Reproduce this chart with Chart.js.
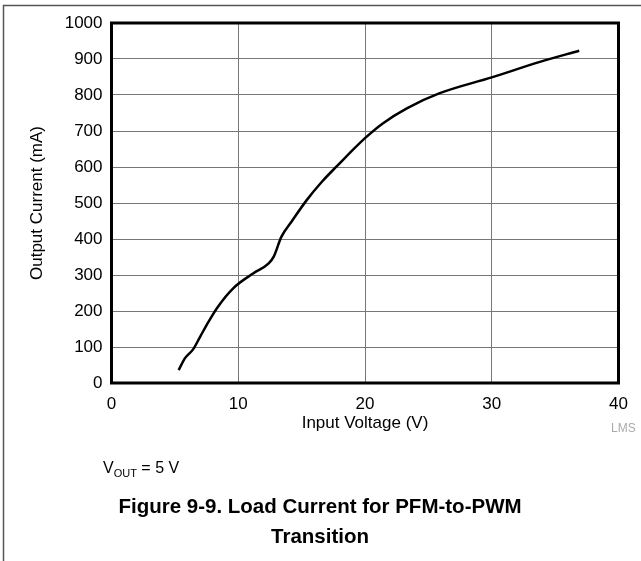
<!DOCTYPE html>
<html>
<head>
<meta charset="utf-8">
<script src="https://cdn.jsdelivr.net/npm/chart.js@4"></script>
<style>
  html, body { margin: 0; padding: 0; background: #fff; }
  #wrap { position: relative; width: 641px; height: 561px; }
</style>
</head>
<body>
<div id="wrap"><canvas id="grafico" width="641" height="561"></canvas></div>
<script>
// dati
const tensioneIngresso = [5.3, 5.8, 6.45, 7.0, 7.65, 8.4, 9.6, 11.2, 12.4, 12.8, 13.4, 14.2, 15.4, 16.6, 17.8, 20.0, 21.4, 23.3, 25.9, 30.0, 33.8, 36.9];
const correnteUscita = [36, 69, 94, 129, 170, 212, 263, 305, 332, 351, 406, 448, 508, 559, 603, 680, 721, 763, 805, 849, 892, 923];
const tickX = [0, 10, 20, 30, 40];
const tickY = [0, 100, 200, 300, 400, 500, 600, 700, 800, 900, 1000];

const FONT = "'Liberation Sans', Arial, sans-serif";

const punti = tensioneIngresso.map((v, i) => ({ x: v, y: correnteUscita[i] }));

// cornice, testi sotto il grafico
const decorazioni = {
    id: 'decorazioni',
    afterDraw(chart) {
        const ctx = chart.ctx;
        const a = chart.chartArea;
        ctx.save();
        // cornice dell'area del grafico
        ctx.strokeStyle = '#000';
        ctx.lineWidth = 3;
        ctx.strokeRect(a.left, a.top, a.right - a.left, a.bottom - a.top);

        // bordo della pagina
        ctx.strokeStyle = '#555';
        ctx.lineWidth = 1.5;
        ctx.beginPath();
        ctx.moveTo(3.5, 561);
        ctx.lineTo(3.5, 5.5);
        ctx.lineTo(641, 5.5);
        ctx.stroke();

        // codice figura (tagliato)
        ctx.fillStyle = '#aaa';
        ctx.font = '12px ' + FONT;
        ctx.textBaseline = 'middle';
        ctx.textAlign = 'left';
        ctx.fillText('LMS', 611, 429);

        // V_OUT = 5 V
        ctx.fillStyle = '#000';
        ctx.font = '16px ' + FONT;
        ctx.textBaseline = 'alphabetic';
        let x = 103;
        ctx.fillText('V', x, 473);
        x += ctx.measureText('V').width;
        ctx.font = '11px ' + FONT;
        ctx.fillText('OUT', x, 477);
        x += ctx.measureText('OUT').width;
        ctx.font = '16px ' + FONT;
        ctx.fillText(' = 5 V', x, 473);

        // titolo
        ctx.font = 'bold 20.5px ' + FONT;
        ctx.textAlign = 'center';
        ctx.textBaseline = 'middle';
        ctx.fillText('Figure 9-9. Load Current for PFM-to-PWM', 320, 507);
        ctx.fillText('Transition', 320, 537);
        ctx.restore();
    }
};

const ctx = document.getElementById('grafico').getContext('2d');
const grafico = new Chart(ctx, {
    type: 'line',
    data: {
        datasets: [{
            data: punti,
            borderColor: '#000',
            borderWidth: 2.5,
            pointRadius: 0,
            tension: 0.4,
            cubicInterpolationMode: 'monotone',
            fill: false
        }]
    },
    options: {
        responsive: false,
        animation: false,
        events: [],
        layout: { padding: { left: 0, top: 23, right: 22.5, bottom: 127.6 } },
        plugins: { legend: { display: false }, tooltip: { enabled: false } },
        scales: {
            x: {
                type: 'linear',
                min: 0,
                max: 40,
                afterBuildTicks: s => { s.ticks = tickX.map(v => ({ value: v })); },
                afterFit: s => { s.height = 50.4; },
                grid: { color: '#777', lineWidth: 1, drawTicks: false },
                border: { display: false },
                ticks: { color: '#000', padding: 11, maxRotation: 0, font: { family: FONT, size: 17 }, callback: v => String(v) },
                title: {
                    display: true,
                    text: 'Input Voltage (V)',
                    color: '#000',
                    padding: { top: 0, bottom: 0 },
                    font: { family: FONT, size: 17 }
                }
            },
            y: {
                type: 'linear',
                min: 0,
                max: 1000,
                afterBuildTicks: s => { s.ticks = tickY.map(v => ({ value: v })); },
                afterFit: s => { s.width = 111.5; },
                grid: { color: '#777', lineWidth: 1, drawTicks: false },
                border: { display: false },
                ticks: { color: '#000', padding: 9, font: { family: FONT, size: 17 }, callback: v => String(v) },
                title: {
                    display: true,
                    text: 'Output Current (mA)',
                    color: '#000',
                    padding: { top: 27, bottom: 0 },
                    font: { family: FONT, size: 17 }
                }
            }
        }
    },
    plugins: [decorazioni]
});
</script>
</body>
</html>
